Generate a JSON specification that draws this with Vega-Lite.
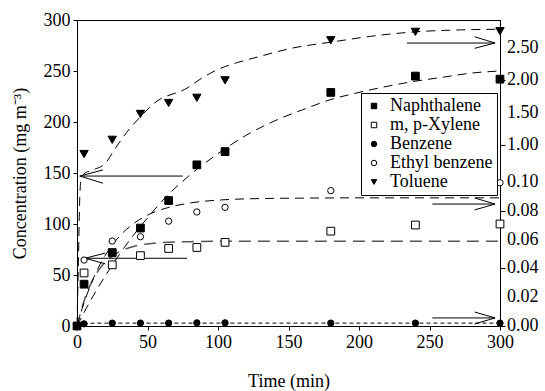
{
  "$schema": "https://vega.github.io/schema/vega-lite/v6.json",
  "width": 423,
  "height": 306,
  "autosize": {"type": "none"},
  "padding": {"left": 77, "top": 20, "right": 45, "bottom": 65},
  "background": "white",
  "config": {
    "font": "Liberation Serif",
    "view": {"stroke": "black", "strokeWidth": 1},
    "axis": {"labelOverlap": false, "labelFlush": false, "grid": false, "labelFont": "Liberation Serif", "titleFont": "Liberation Serif"},
    "legend": {"labelFont": "Liberation Serif"}
  },
  "datasets": {
    "points": [
      {"t": 0, "v": 0, "s": "Naphthalene"},
      {"t": 5, "v": 41, "s": "Naphthalene"},
      {"t": 25, "v": 72, "s": "Naphthalene"},
      {"t": 45, "v": 96, "s": "Naphthalene"},
      {"t": 65, "v": 123, "s": "Naphthalene"},
      {"t": 85, "v": 158, "s": "Naphthalene"},
      {"t": 105, "v": 171, "s": "Naphthalene"},
      {"t": 180, "v": 229, "s": "Naphthalene"},
      {"t": 240, "v": 245, "s": "Naphthalene"},
      {"t": 300, "v": 242, "s": "Naphthalene"},
      {"t": 5, "v": 52, "s": "m, p-Xylene"},
      {"t": 25, "v": 60, "s": "m, p-Xylene"},
      {"t": 45, "v": 69, "s": "m, p-Xylene"},
      {"t": 65, "v": 76, "s": "m, p-Xylene"},
      {"t": 85, "v": 77, "s": "m, p-Xylene"},
      {"t": 105, "v": 82, "s": "m, p-Xylene"},
      {"t": 180, "v": 93, "s": "m, p-Xylene"},
      {"t": 240, "v": 99, "s": "m, p-Xylene"},
      {"t": 300, "v": 100, "s": "m, p-Xylene"},
      {"t": 0, "v": 0, "s": "Benzene"},
      {"t": 5, "v": 0.0015, "s": "Benzene"},
      {"t": 25, "v": 0.002, "s": "Benzene"},
      {"t": 45, "v": 0.002, "s": "Benzene"},
      {"t": 65, "v": 0.002, "s": "Benzene"},
      {"t": 85, "v": 0.0022, "s": "Benzene"},
      {"t": 105, "v": 0.0022, "s": "Benzene"},
      {"t": 180, "v": 0.002, "s": "Benzene"},
      {"t": 240, "v": 0.002, "s": "Benzene"},
      {"t": 300, "v": 0.002, "s": "Benzene"},
      {"t": 5, "v": 0.0458, "s": "Ethyl benzene"},
      {"t": 25, "v": 0.059, "s": "Ethyl benzene"},
      {"t": 45, "v": 0.062, "s": "Ethyl benzene"},
      {"t": 65, "v": 0.0728, "s": "Ethyl benzene"},
      {"t": 85, "v": 0.0792, "s": "Ethyl benzene"},
      {"t": 105, "v": 0.0824, "s": "Ethyl benzene"},
      {"t": 180, "v": 0.094, "s": "Ethyl benzene"},
      {"t": 300, "v": 0.0995, "s": "Ethyl benzene"},
      {"t": 5, "v": 0.78, "s": "Toluene"},
      {"t": 25, "v": 1.08, "s": "Toluene"},
      {"t": 45, "v": 1.48, "s": "Toluene"},
      {"t": 65, "v": 1.65, "s": "Toluene"},
      {"t": 85, "v": 1.73, "s": "Toluene"},
      {"t": 105, "v": 2.0, "s": "Toluene"},
      {"t": 180, "v": 2.62, "s": "Toluene"},
      {"t": 240, "v": 2.75, "s": "Toluene"},
      {"t": 300, "v": 2.76, "s": "Toluene"}
    ],
    "fits": [
      {"t": 0, "v": 0, "s": "Naphthalene"},
      {"t": 10, "v": 26, "s": "Naphthalene"},
      {"t": 20, "v": 49, "s": "Naphthalene"},
      {"t": 30, "v": 70, "s": "Naphthalene"},
      {"t": 40, "v": 89, "s": "Naphthalene"},
      {"t": 50, "v": 106, "s": "Naphthalene"},
      {"t": 60, "v": 122, "s": "Naphthalene"},
      {"t": 80, "v": 148, "s": "Naphthalene"},
      {"t": 100, "v": 169, "s": "Naphthalene"},
      {"t": 120, "v": 187, "s": "Naphthalene"},
      {"t": 140, "v": 201, "s": "Naphthalene"},
      {"t": 160, "v": 212, "s": "Naphthalene"},
      {"t": 180, "v": 222, "s": "Naphthalene"},
      {"t": 200, "v": 229, "s": "Naphthalene"},
      {"t": 220, "v": 235, "s": "Naphthalene"},
      {"t": 240, "v": 240, "s": "Naphthalene"},
      {"t": 260, "v": 244, "s": "Naphthalene"},
      {"t": 280, "v": 248, "s": "Naphthalene"},
      {"t": 300, "v": 250, "s": "Naphthalene"},
      {"t": 0, "v": 0, "s": "m, p-Xylene"},
      {"t": 5, "v": 24.5, "s": "m, p-Xylene"},
      {"t": 10, "v": 41.8, "s": "m, p-Xylene"},
      {"t": 15, "v": 54, "s": "m, p-Xylene"},
      {"t": 20, "v": 62.5, "s": "m, p-Xylene"},
      {"t": 25, "v": 68.6, "s": "m, p-Xylene"},
      {"t": 30, "v": 72.8, "s": "m, p-Xylene"},
      {"t": 40, "v": 78, "s": "m, p-Xylene"},
      {"t": 50, "v": 80.5, "s": "m, p-Xylene"},
      {"t": 60, "v": 81.8, "s": "m, p-Xylene"},
      {"t": 80, "v": 82.7, "s": "m, p-Xylene"},
      {"t": 100, "v": 83, "s": "m, p-Xylene"},
      {"t": 300, "v": 83, "s": "m, p-Xylene"},
      {"t": 0, "v": 0, "s": "Benzene"},
      {"t": 2, "v": 0.0012, "s": "Benzene"},
      {"t": 5, "v": 0.0017, "s": "Benzene"},
      {"t": 10, "v": 0.0019, "s": "Benzene"},
      {"t": 20, "v": 0.002, "s": "Benzene"},
      {"t": 300, "v": 0.002, "s": "Benzene"},
      {"t": 0, "v": 0, "s": "Ethyl benzene"},
      {"t": 5, "v": 0.0161, "s": "Ethyl benzene"},
      {"t": 10, "v": 0.0293, "s": "Ethyl benzene"},
      {"t": 15, "v": 0.0402, "s": "Ethyl benzene"},
      {"t": 20, "v": 0.049, "s": "Ethyl benzene"},
      {"t": 30, "v": 0.0622, "s": "Ethyl benzene"},
      {"t": 40, "v": 0.071, "s": "Ethyl benzene"},
      {"t": 50, "v": 0.077, "s": "Ethyl benzene"},
      {"t": 60, "v": 0.0809, "s": "Ethyl benzene"},
      {"t": 80, "v": 0.0854, "s": "Ethyl benzene"},
      {"t": 100, "v": 0.0874, "s": "Ethyl benzene"},
      {"t": 130, "v": 0.0885, "s": "Ethyl benzene"},
      {"t": 160, "v": 0.0888, "s": "Ethyl benzene"},
      {"t": 200, "v": 0.089, "s": "Ethyl benzene"},
      {"t": 300, "v": 0.089, "s": "Ethyl benzene"},
      {"t": 0, "v": 0, "s": "Toluene"},
      {"t": 1, "v": 0.045, "s": "Toluene"},
      {"t": 2, "v": 0.09, "s": "Toluene"},
      {"t": 3, "v": 0.2, "s": "Toluene"},
      {"t": 5, "v": 0.3, "s": "Toluene"},
      {"t": 10, "v": 0.38, "s": "Toluene"},
      {"t": 20, "v": 0.55, "s": "Toluene"},
      {"t": 25.5, "v": 0.83, "s": "Toluene"},
      {"t": 32.6, "v": 1.12, "s": "Toluene"},
      {"t": 46, "v": 1.46, "s": "Toluene"},
      {"t": 55, "v": 1.65, "s": "Toluene"},
      {"t": 78, "v": 1.88, "s": "Toluene"},
      {"t": 89, "v": 2.04, "s": "Toluene"},
      {"t": 99, "v": 2.16, "s": "Toluene"},
      {"t": 113, "v": 2.27, "s": "Toluene"},
      {"t": 128, "v": 2.36, "s": "Toluene"},
      {"t": 153, "v": 2.5, "s": "Toluene"},
      {"t": 180, "v": 2.59, "s": "Toluene"},
      {"t": 208, "v": 2.68, "s": "Toluene"},
      {"t": 240, "v": 2.75, "s": "Toluene"},
      {"t": 272, "v": 2.78, "s": "Toluene"},
      {"t": 300, "v": 2.79, "s": "Toluene"}
    ],
    "arrows": [
      {"a": "left", "t1": 2, "v1": 147, "t2": 75, "v2": 147},
      {"a": "left", "t1": 2, "v1": 147, "t2": 18.4, "v2": 153},
      {"a": "left", "t1": 2, "v1": 147, "t2": 18.4, "v2": 140},
      {"a": "left", "t1": 5.7, "v1": 66.4, "t2": 78, "v2": 66.4},
      {"a": "left", "t1": 5.7, "v1": 66.4, "t2": 20, "v2": 71.5},
      {"a": "left", "t1": 5.7, "v1": 66.4, "t2": 20, "v2": 61},
      {"a": "right", "t1": 234, "v1": 2.577, "t2": 296.5, "v2": 2.577},
      {"a": "right", "t1": 282, "v1": 2.674, "t2": 296.5, "v2": 2.577},
      {"a": "right", "t1": 282, "v1": 2.495, "t2": 296.5, "v2": 2.577},
      {"a": "right", "t1": 252, "v1": 0.0847, "t2": 296.5, "v2": 0.0847},
      {"a": "right", "t1": 282, "v1": 0.0889, "t2": 296.5, "v2": 0.0847},
      {"a": "right", "t1": 282, "v1": 0.0806, "t2": 296.5, "v2": 0.0847},
      {"a": "right", "t1": 252, "v1": 0.0056, "t2": 296.5, "v2": 0.0056},
      {"a": "right", "t1": 282, "v1": 0.0097, "t2": 296.5, "v2": 0.0056},
      {"a": "right", "t1": 282, "v1": 0.0014, "t2": 296.5, "v2": 0.0056}
    ],
    "rticks": [
      {"v": 0}, {"v": 0.02}, {"v": 0.04}, {"v": 0.06}, {"v": 0.08}, {"v": 0.1},
      {"v": 1.0}, {"v": 1.5}, {"v": 2.0}, {"v": 2.5}
    ]
  },
  "layer": [
    {
      "layer": [
        {
          "data": {"name": "fits"},
          "transform": [{"filter": "datum.s == 'Naphthalene'"}],
          "mark": {"type": "line", "color": "black", "strokeWidth": 1, "strokeDash": [9, 6], "interpolate": "monotone"},
          "encoding": {
            "x": {"field": "t", "type": "quantitative", "title": "Time (min)",
                  "scale": {"domain": [0, 300], "nice": false, "zero": false},
                  "axis": {"values": [0, 50, 100, 150, 200, 250, 300], "titlePadding": 21,
                           "labelFont": "Liberation Serif", "labelFontSize": 18, "labelColor": "black", "labelPadding": 3, "labelFlush": false, "labelOverlap": false,
                           "titleFont": "Liberation Serif", "titleFontSize": 18, "titleFontWeight": "normal", "titleColor": "black",
                           "tickColor": "black", "domainColor": "black", "tickSize": 4, "grid": false}},
            "y": {"field": "v", "type": "quantitative", "title": "Concentration (mg m⁻³)",
                  "scale": {"domain": [0, 300], "nice": false},
                  "axis": {"values": [0, 50, 100, 150, 200, 250, 300], "titlePadding": 14,
                           "labelFont": "Liberation Serif", "labelFontSize": 18, "labelColor": "black", "labelPadding": 3, "labelFlush": false, "labelOverlap": false,
                           "titleFont": "Liberation Serif", "titleFontSize": 18, "titleFontWeight": "normal", "titleColor": "black",
                           "tickColor": "black", "domainColor": "black", "tickSize": 4, "grid": false}}
          }
        },
        {
          "data": {"name": "fits"},
          "transform": [{"filter": "datum.s == 'm, p-Xylene'"}],
          "mark": {"type": "line", "color": "#555555", "strokeWidth": 1.5, "strokeDash": [12, 7], "interpolate": "monotone"},
          "encoding": {
            "x": {"field": "t", "type": "quantitative", "title": "Time (min)"},
            "y": {"field": "v", "type": "quantitative", "title": "Concentration (mg m⁻³)"}
          }
        },
        {
          "data": {"name": "arrows"},
          "transform": [{"filter": "datum.a == 'left'"}],
          "mark": {"type": "rule", "color": "black", "strokeWidth": 1},
          "encoding": {
            "x": {"field": "t1", "type": "quantitative", "title": "Time (min)"},
            "x2": {"field": "t2"},
            "y": {"field": "v1", "type": "quantitative", "title": "Concentration (mg m⁻³)"},
            "y2": {"field": "v2"}
          }
        },
        {
          "data": {"name": "points"},
          "transform": [{"filter": "datum.s == 'Naphthalene' || datum.s == 'm, p-Xylene'"}],
          "mark": {"type": "point", "strokeWidth": 1, "opacity": 1, "size": 60},
          "encoding": {
            "x": {"field": "t", "type": "quantitative", "title": "Time (min)"},
            "y": {"field": "v", "type": "quantitative", "title": "Concentration (mg m⁻³)"},
            "shape": {"field": "s", "type": "nominal", "title": null,
                      "scale": {"domain": ["Naphthalene", "m, p-Xylene", "Benzene", "Ethyl benzene", "Toluene"],
                                "range": ["square", "square", "circle", "circle", "triangle-down"]},
                      "legend": {"orient": "none", "legendX": 284, "legendY": 73, "title": null,
                                 "fillColor": "white", "strokeColor": "black", "padding": 4,
                                 "labelFont": "Liberation Serif", "labelFontSize": 18, "labelColor": "black", "labelOffset": 7,
                                 "symbolSize": 30, "rowPadding": 1, "symbolStrokeColor": "black", "symbolStrokeWidth": 1}},
            "fill": {"field": "s", "type": "nominal", "title": null,
                     "scale": {"domain": ["Naphthalene", "m, p-Xylene", "Benzene", "Ethyl benzene", "Toluene"],
                               "range": ["black", "white", "black", "white", "black"]},
                     "legend": {"orient": "none", "legendX": 284, "legendY": 73, "title": null,
                                 "fillColor": "white", "strokeColor": "black", "padding": 4,
                                 "labelFont": "Liberation Serif", "labelFontSize": 18, "labelColor": "black", "labelOffset": 7,
                                 "symbolSize": 30, "rowPadding": 1, "symbolStrokeColor": "black", "symbolStrokeWidth": 1}},
            "stroke": {"field": "s", "type": "nominal", "title": null,
                     "scale": {"domain": ["Naphthalene", "m, p-Xylene", "Benzene", "Ethyl benzene", "Toluene"],
                               "range": ["black", "black", "black", "black", "black"]},
                     "legend": {"orient": "none", "legendX": 284, "legendY": 73, "title": null,
                                 "fillColor": "white", "strokeColor": "black", "padding": 4,
                                 "labelFont": "Liberation Serif", "labelFontSize": 18, "labelColor": "black", "labelOffset": 7,
                                 "symbolSize": 30, "rowPadding": 1, "symbolStrokeColor": "black", "symbolStrokeWidth": 1}}
          }
        }
      ]
    },
    {
      "layer": [
        {
          "data": {"name": "fits"},
          "transform": [{"filter": "datum.s == 'Toluene' || datum.s == 'Ethyl benzene'"}],
          "mark": {"type": "line", "color": "black", "strokeWidth": 1, "strokeDash": [9, 6], "interpolate": "monotone"},
          "encoding": {
            "x": {"field": "t", "type": "quantitative", "title": "Time (min)"},
            "y": {"field": "v", "type": "quantitative", "title": null,
                  "scale": {"domain": [0, 0.1, 1, 2.933], "range": [306, 162, 125, 0], "nice": false, "zero": false},
                  "axis": {"orient": "right", "values": [0, 0.02, 0.04, 0.06, 0.08, 0.1, 1, 1.5, 2, 2.5], "labels": false,
                           "tickColor": "black", "domainColor": "black", "tickSize": 5, "grid": false}},
            "detail": {"field": "s"}
          }
        },
        {
          "data": {"name": "fits"},
          "transform": [{"filter": "datum.s == 'Benzene'"}],
          "mark": {"type": "line", "color": "black", "strokeWidth": 1, "strokeDash": [4, 3], "interpolate": "monotone"},
          "encoding": {
            "x": {"field": "t", "type": "quantitative", "title": "Time (min)"},
            "y": {"field": "v", "type": "quantitative", "title": null}
          }
        },
        {
          "data": {"name": "arrows"},
          "transform": [{"filter": "datum.a == 'right'"}],
          "mark": {"type": "rule", "color": "black", "strokeWidth": 1},
          "encoding": {
            "x": {"field": "t1", "type": "quantitative", "title": "Time (min)"},
            "x2": {"field": "t2"},
            "y": {"field": "v1", "type": "quantitative", "title": null},
            "y2": {"field": "v2"}
          }
        },
        {
          "data": {"name": "rticks"},
          "mark": {"type": "text", "align": "left", "baseline": "middle", "dx": 7, "font": "Liberation Serif", "fontSize": 18, "color": "black"},
          "encoding": {
            "x": {"datum": 300, "type": "quantitative"},
            "y": {"field": "v", "type": "quantitative", "title": null},
            "text": {"field": "v", "type": "quantitative", "format": ".2f"}
          }
        },
        {
          "data": {"name": "points"},
          "transform": [{"filter": "datum.s == 'Benzene' || datum.s == 'Ethyl benzene'"}],
          "mark": {"type": "point", "strokeWidth": 1, "opacity": 1, "size": 40},
          "encoding": {
            "x": {"field": "t", "type": "quantitative", "title": "Time (min)"},
            "y": {"field": "v", "type": "quantitative", "title": null},
            "shape": {"field": "s", "type": "nominal", "title": null},
            "fill": {"field": "s", "type": "nominal", "title": null},
            "stroke": {"field": "s", "type": "nominal", "title": null}
          }
        },
        {
          "data": {"name": "points"},
          "transform": [{"filter": "datum.s == 'Toluene'"}],
          "mark": {"type": "point", "strokeWidth": 1, "opacity": 1, "size": 70},
          "encoding": {
            "x": {"field": "t", "type": "quantitative", "title": "Time (min)"},
            "y": {"field": "v", "type": "quantitative", "title": null},
            "shape": {"field": "s", "type": "nominal", "title": null},
            "fill": {"field": "s", "type": "nominal", "title": null},
            "stroke": {"field": "s", "type": "nominal", "title": null}
          }
        }
      ]
    }
  ],
  "resolve": {"scale": {"y": "independent"}}
}
